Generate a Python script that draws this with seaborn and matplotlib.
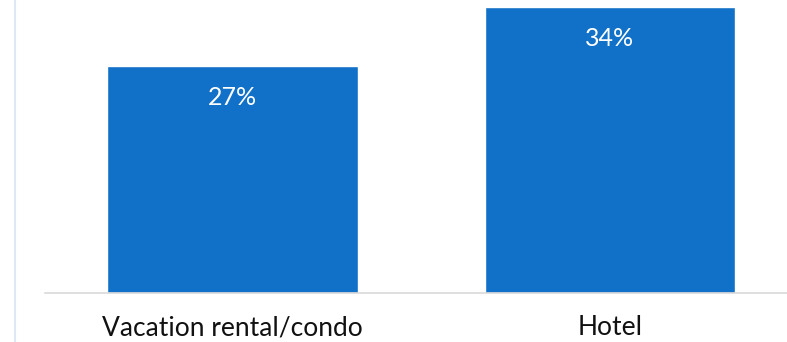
import matplotlib
matplotlib.use("Agg")
import matplotlib.pyplot as plt
import seaborn as sns
import pandas as pd
from matplotlib.lines import Line2D

categories = ["Vacation rental/condo", "Hotel"]
shares = [27, 34]
value_labels = ["27%", "34%"]

sns.set_theme(style="white")
plt.rcParams["font.family"] = ["Lato", "DejaVu Sans"]

df = pd.DataFrame({"category": categories, "share": shares})

fig = plt.figure(figsize=(7.87, 3.42), dpi=100)
ax = fig.add_axes([45 / 787, 49 / 342, 742 / 787, 293 / 342])

sns.barplot(data=df, x="category", y="share", color="#1170C8", saturation=1,
            width=0.665, ax=ax)

ax.set_xlim(-0.497, 1.469)
ax.set_ylim(0, 34.8)
ax.set_xlabel("")
ax.set_ylabel("")
ax.set_yticks([])
ax.tick_params(axis="x", length=0, labelsize=19, colors="#111111", pad=16)
for side in ["top", "right", "left"]:
    ax.spines[side].set_visible(False)
ax.spines["bottom"].set_color("#d9d9d9")
ax.spines["bottom"].set_linewidth(1.2)

for i, (v, lab) in enumerate(zip(shares, value_labels)):
    ax.annotate(lab, xy=(i, v), xytext=(0, -23), textcoords="offset points",
                ha="center", va="center", color="white", fontsize=18)

fig.add_artist(Line2D([15 / 787, 15 / 787], [0, 1], transform=fig.transFigure,
                      color="#dde8f4", linewidth=1.5))

fig.savefig("out.png", dpi=100)
